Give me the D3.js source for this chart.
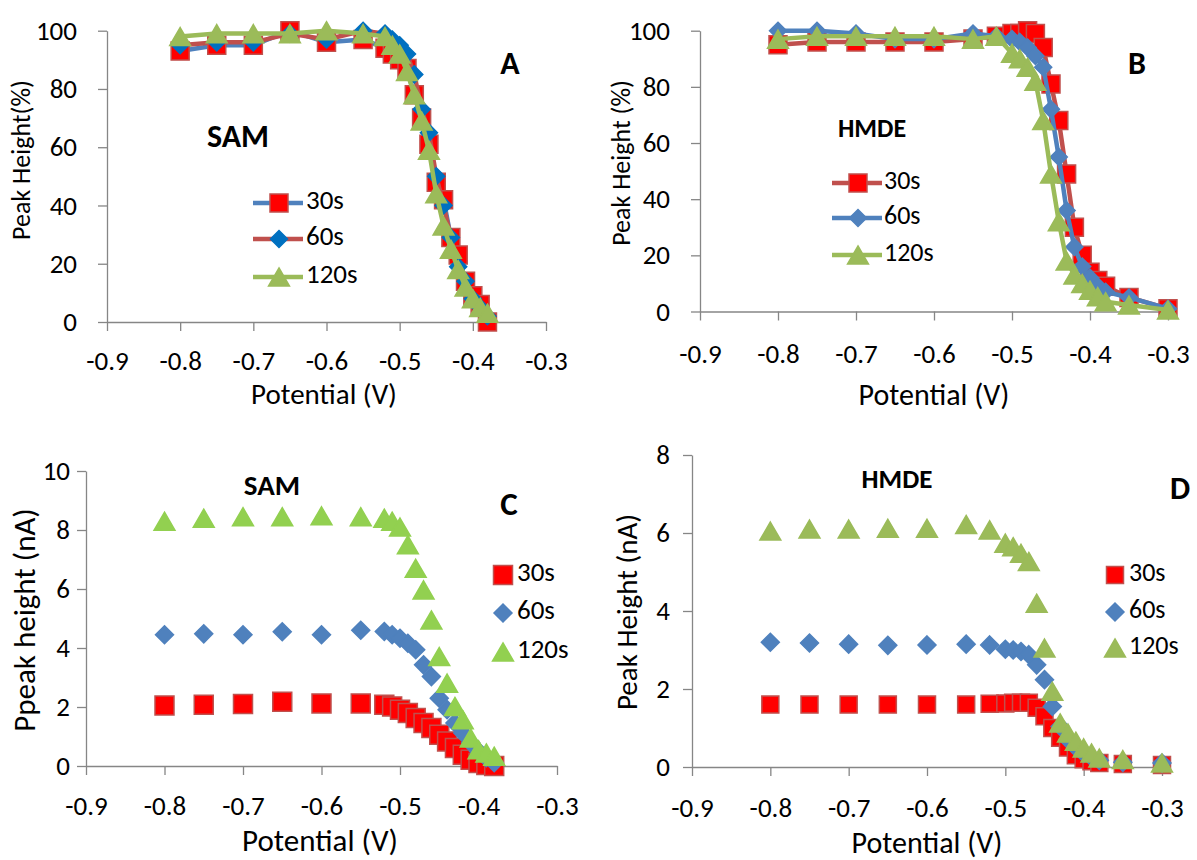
<!DOCTYPE html>
<html>
<head>
<meta charset="utf-8">
<script src="https://cdn.jsdelivr.net/npm/d3@7"></script>
<style>
  html, body { margin: 0; padding: 0; background: #ffffff; }
  svg { display: block; }
  text { font-family: Carlito, Lato, "Open Sans", sans-serif; fill: #000; }
</style>
</head>
<body>
<svg id="chart" width="1197" height="860"></svg>
<script>
// ---------- DATA ----------
const xTicks = [-0.9, -0.8, -0.7, -0.6, -0.5, -0.4, -0.3];
const xTickLabels = ["-0.9", "-0.8", "-0.7", "-0.6", "-0.5", "-0.4", "-0.3"];
const seriesNames = ["30s", "60s", "120s"];

// Panels A and C potentials
const potentialSAM = [-0.8, -0.75, -0.7, -0.65, -0.6, -0.55, -0.52, -0.51, -0.5, -0.49, -0.48, -0.47, -0.46, -0.45, -0.44, -0.43, -0.42, -0.41, -0.4, -0.39, -0.38];
// Panels B and D potentials
const potentialHMDE = [-0.8, -0.75, -0.7, -0.65, -0.6, -0.55, -0.52, -0.5, -0.49, -0.48, -0.47, -0.46, -0.45, -0.44, -0.43, -0.42, -0.41, -0.4, -0.39, -0.38, -0.35, -0.3];

// A: SAM, peak height (%)
const samPct30  = [93, 95, 95, 100, 96, 97, 94, 92, 90, 87, 78, 70, 61, 48, 42, 29, 23, 14, 9, 6, 0];
const samPct60  = [95, 96, 96, 99, 97, 100, 99, 97, 95, 92, 85, 73, 65, 50, 40, 29, 19, 14, 8, 5, 2];
const samPct120 = [98, 99, 99, 99, 100, 99, 98, 95, 92, 86, 78, 69, 59, 44, 33, 25, 18, 12, 8, 5, 3];

// B: HMDE, peak height (%)
const hmdePct30  = [95, 96, 96, 96, 96, 97, 98, 99, 99, 100, 99, 94, 81, 68, 49, 30, 20, 14, 11, 9, 5, 1];
const hmdePct60  = [100, 100, 99, 97, 97, 99, 98, 97, 96, 94, 91, 87, 72, 55, 36, 23, 16, 12, 9, 7, 5, 1];
const hmdePct120 = [97, 98, 98, 98, 98, 97, 98, 92, 90, 87, 82, 68, 49, 32, 18, 13, 10, 7.6, 5.3, 3.5, 2.3, 0.5];

// C: SAM, peak height (nA)
const samNA30  = [2.05, 2.08, 2.1, 2.18, 2.12, 2.12, 2.08, 2.02, 1.91, 1.8, 1.63, 1.46, 1.29, 1.06, 0.83, 0.61, 0.38, 0.21, 0.1, 0.03, 0.0];
const samNA60  = [4.45, 4.48, 4.45, 4.55, 4.45, 4.6, 4.56, 4.45, 4.33, 4.16, 3.94, 3.43, 3.03, 2.3, 1.91, 1.46, 1.12, 0.79, 0.5, 0.28, 0.11];
const samNA120 = [8.3, 8.4, 8.45, 8.45, 8.48, 8.45, 8.4, 8.3, 8.1, 7.5, 6.7, 5.97, 4.95, 3.71, 2.81, 2.02, 1.57, 0.95, 0.55, 0.44, 0.33];

// D: HMDE, peak height (nA)
const hmdeNA30  = [1.6, 1.6, 1.6, 1.6, 1.6, 1.6, 1.62, 1.63, 1.65, 1.65, 1.65, 1.52, 1.3, 1.0, 0.75, 0.5, 0.3, 0.2, 0.15, 0.1, 0.08, 0.05];
const hmdeNA60  = [3.2, 3.18, 3.15, 3.12, 3.13, 3.15, 3.13, 3.02, 3.0, 2.96, 2.88, 2.62, 2.24, 1.55, 1.04, 0.7, 0.5, 0.35, 0.25, 0.17, 0.12, 0.1];
const hmdeNA120 = [6.05, 6.1, 6.1, 6.12, 6.12, 6.22, 6.08, 5.74, 5.65, 5.48, 5.27, 4.2, 3.05, 1.94, 1.13, 0.87, 0.66, 0.49, 0.36, 0.23, 0.19, 0.1];

const yTicksPct = [0, 20, 40, 60, 80, 100];
const yTicksC = [0, 2, 4, 6, 8, 10];
const yTicksD = [0, 2, 4, 6, 8];

// ---------- DRAWING ----------
const svg = d3.select("#chart");
svg.append("rect").attr("width", 1197).attr("height", 860).attr("fill", "#fff");

const AXIS = "#868686";
const FONT = "Carlito, Lato, 'Open Sans', sans-serif";

function markerPath(shape, s) {
  if (shape === "square") return `M${-s/2},${-s/2}H${s/2}V${s/2}H${-s/2}Z`;
  if (shape === "diamond") return `M0,${-s/2}L${s/2},0L0,${s/2}L${-s/2},0Z`;
  const w = s * 1.1, h = s * 0.95;
  return `M0,${-h/2}L${w/2},${h/2}L${-w/2},${h/2}Z`;
}

function panel(cfg) {
  const g = svg.append("g");
  const x = d3.scaleLinear().domain([-0.9, -0.3]).range([cfg.x0, cfg.x1]);
  const y = d3.scaleLinear().domain([0, cfg.ymax]).range([cfg.yb, cfg.yt]);

  const ya = g.append("g").attr("transform", `translate(${cfg.x0},0)`)
    .call(d3.axisLeft(y).tickValues(cfg.yticks).tickFormat(d3.format("d")).tickSize(9).tickSizeOuter(0).tickPadding(cfg.ypad));
  const xa = g.append("g").attr("transform", `translate(0,${cfg.yb})`)
    .call(d3.axisBottom(x).tickValues(xTicks).tickFormat((d, i) => xTickLabels[i]).tickSize(9).tickSizeOuter(0).tickPadding(cfg.xpad));
  [ya, xa].forEach(a => {
    a.attr("font-size", null).attr("font-family", null);
    a.select(".domain").attr("stroke", AXIS).attr("stroke-width", 1.3);
    a.selectAll(".tick line").attr("stroke", AXIS).attr("stroke-width", 1.3);
    a.selectAll("text").style("font-size", cfg.tickFs + "px").style("font-family", FONT).attr("fill", "#000");
  });

  g.append("text").attr("x", cfg.xtitle[0]).attr("y", cfg.xtitle[1]).attr("text-anchor", "middle")
    .attr("dominant-baseline", "middle").style("font-size", cfg.xtitle[2] + "px").text("Potential (V)");
  g.append("text").attr("transform", `translate(${cfg.ytitle[0]},${cfg.ytitle[1]}) rotate(-90)`)
    .attr("text-anchor", "middle").attr("dominant-baseline", "middle").style("font-size", cfg.ytitle[2] + "px").text(cfg.ylabel);

  const shapes = ["square", "diamond", "triangle"];
  cfg.series.forEach((vals, si) => {
    const st = cfg.styles[si];
    const pts = cfg.xs.map((xv, i) => [xv, vals[i]]);
    if (st.line) {
      g.append("path").datum(pts)
        .attr("d", d3.line().x(d => x(d[0])).y(d => y(d[1])))
        .attr("fill", "none").attr("stroke", st.line).attr("stroke-width", 4.5)
        .attr("stroke-linejoin", "round");
    }
    g.selectAll(null).data(pts).enter().append("path")
      .attr("transform", d => `translate(${x(d[0])},${y(d[1])})`)
      .attr("d", markerPath(shapes[si], st.size))
      .attr("fill", st.fill).attr("stroke", st.stroke).attr("stroke-width", 1.5);
  });

  cfg.styles.forEach((st, si) => {
    const ly = cfg.legend.ys[si];
    if (st.line) {
      g.append("line").attr("x1", cfg.legend.x - 26).attr("x2", cfg.legend.x + 24)
        .attr("y1", ly).attr("y2", ly).attr("stroke", st.line).attr("stroke-width", 4.5);
    }
    g.append("path").attr("transform", `translate(${cfg.legend.x},${ly})`)
      .attr("d", markerPath(shapes[si], st.size)).attr("fill", st.fill).attr("stroke", st.stroke).attr("stroke-width", 1.5);
    g.append("text").attr("x", cfg.legend.tx).attr("y", ly).attr("dominant-baseline", "middle")
      .style("font-size", cfg.legend.fs + "px").text(seriesNames[si]);
  });

  g.append("text").attr("x", cfg.name[0]).attr("y", cfg.name[1]).attr("text-anchor", "middle")
    .attr("dominant-baseline", "middle").style("font-size", cfg.name[2] + "px").attr("font-weight", "bold").text(cfg.nameText);
  g.append("text").attr("x", cfg.letter[0]).attr("y", cfg.letter[1]).attr("text-anchor", "middle")
    .attr("dominant-baseline", "middle").style("font-size", cfg.letter[2] + "px").attr("font-weight", "bold").text(cfg.letterText);
}

const RED = { fill: "#FF0000", stroke: "#C0504D" };

panel({
  x0: 107, x1: 546, yb: 322, yt: 30.7, ymax: 100, yticks: yTicksPct, ypad: 21, xpad: 20, tickFs: 27,
  xs: potentialSAM, series: [samPct30, samPct60, samPct120],
  styles: [
    { line: "#4F81BD", fill: RED.fill, stroke: RED.stroke, size: 18 },
    { line: "#C0504D", fill: "#0070C0", stroke: "#0070C0", size: 17 },
    { line: "#9BBB59", fill: "#9BBB59", stroke: "#9BBB59", size: 19 }
  ],
  legend: { x: 279, tx: 306, ys: [203, 239, 277], fs: 27 },
  xtitle: [324, 397, 29], ytitle: [24, 160, 26], ylabel: "Peak Height(%)",
  name: [238, 139, 32], nameText: "SAM", letter: [510, 66, 32], letterText: "A"
});

panel({
  x0: 700, x1: 1168, yb: 311.5, yt: 30.7, ymax: 100, yticks: yTicksPct, ypad: 21, xpad: 23, tickFs: 27,
  xs: potentialHMDE, series: [hmdePct30, hmdePct60, hmdePct120],
  styles: [
    { line: "#C0504D", fill: RED.fill, stroke: RED.stroke, size: 18 },
    { line: "#4F81BD", fill: "#4F81BD", stroke: "#4F81BD", size: 17 },
    { line: "#9BBB59", fill: "#9BBB59", stroke: "#9BBB59", size: 19 }
  ],
  legend: { x: 858, tx: 884, ys: [183, 218, 255], fs: 26 },
  xtitle: [934, 398, 30], ytitle: [624, 163, 26], ylabel: "Peak Height (%)",
  name: [872, 131, 26], nameText: "HMDE", letter: [1137, 66, 32], letterText: "B"
});

panel({
  x0: 86, x1: 557, yb: 766, yt: 471, ymax: 10, yticks: yTicksC, ypad: 7, xpad: 21, tickFs: 27,
  xs: potentialSAM, series: [samNA30, samNA60, samNA120],
  styles: [
    { line: null, fill: RED.fill, stroke: RED.stroke, size: 19 },
    { line: null, fill: "#4F81BD", stroke: "#4F81BD", size: 18 },
    { line: null, fill: "#92D050", stroke: "#92D050", size: 19 }
  ],
  legend: { x: 503, tx: 517, ys: [575, 613, 652], fs: 27 },
  xtitle: [320, 844, 31], ytitle: [28, 620, 31], ylabel: "Ppeak height (nA)",
  name: [272, 488, 29], nameText: "SAM", letter: [509, 507, 33], letterText: "C"
});

panel({
  x0: 692, x1: 1162, yb: 767, yt: 455, ymax: 8, yticks: yTicksD, ypad: 13, xpad: 22, tickFs: 27,
  xs: potentialHMDE, series: [hmdeNA30, hmdeNA60, hmdeNA120],
  styles: [
    { line: null, fill: RED.fill, stroke: RED.stroke, size: 17 },
    { line: null, fill: "#4F81BD", stroke: "#4F81BD", size: 18 },
    { line: null, fill: "#9BBB59", stroke: "#9BBB59", size: 19 }
  ],
  legend: { x: 1115, tx: 1129, ys: [575, 612, 648], fs: 26 },
  xtitle: [927, 846, 30], ytitle: [630, 612, 29], ylabel: "Peak Height (nA)",
  name: [897, 481, 27], nameText: "HMDE", letter: [1180, 491, 32], letterText: "D"
});
</script>
</body>
</html>
